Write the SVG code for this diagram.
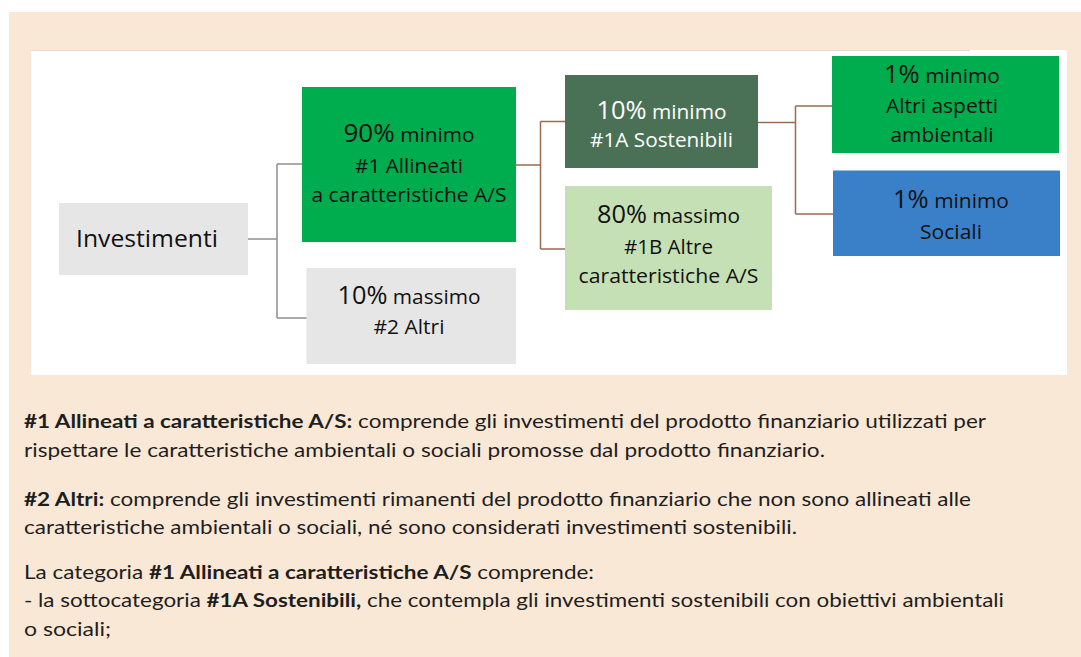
<svg xmlns="http://www.w3.org/2000/svg" width="1081" height="657" viewBox="0 0 1081 657">
<style>
.d{font-family:"Open Sans","Noto Sans","DejaVu Sans",sans-serif;text-anchor:middle;fill:#111}
.w{fill:#fff}
.b{font-family:Lato,"Liberation Sans",sans-serif;font-size:19px;fill:#1e1e1e}
.bb{font-weight:bold}
.gray{fill:#e7e6e6}
.c1{fill:none;stroke:#8f8f8f;stroke-width:1.5}
.c2{fill:none;stroke:#9a6a55;stroke-width:1.5}
</style>
<rect x="0" y="0" width="1081" height="657" fill="#ffffff"/>
<rect x="9" y="12" width="1072" height="645" fill="#fae8d6"/>
<rect x="31" y="50" width="1036" height="325" fill="#ffffff"/>
<line x1="31" y1="50.5" x2="970" y2="50.5" stroke="#e2dcd6" stroke-width="1"/>

<g id="connectors">
<path class="c1" d="M248 239 H277 M277 164 V318 M277 164 H302 M277 318 H307"/>
<path class="c2" d="M516 165 H540.5 M540.5 121.5 V249 M540.5 121.5 H565 M540.5 249 H565"/>
<path class="c2" d="M758 122.5 H795.5 M795.5 106 V214 M795.5 106 H832 M795.5 214 H833"/>
</g>

<g id="node-investimenti">
<rect class="gray" x="59" y="203" width="189" height="72"/>
<text class="d" x="147" y="247" font-size="24" textLength="142" lengthAdjust="spacingAndGlyphs">Investimenti</text>
</g>

<g id="node-allineati">
<rect x="302" y="87" width="214" height="155" fill="#00ad4e"/>
<text class="d" x="409" y="142" textLength="131" lengthAdjust="spacingAndGlyphs"><tspan font-size="25">90%</tspan><tspan font-size="20"> minimo</tspan></text>
<text class="d" x="409" y="172.5" font-size="20.5" textLength="108" lengthAdjust="spacingAndGlyphs">#1 Allineati</text>
<text class="d" x="409" y="201.5" font-size="20.5" textLength="195" lengthAdjust="spacingAndGlyphs">a caratteristiche A/S</text>
</g>

<g id="node-altri">
<rect class="gray" x="306.5" y="268" width="209.5" height="96"/>
<text class="d" x="409" y="303.5" textLength="143" lengthAdjust="spacingAndGlyphs"><tspan font-size="25">10%</tspan><tspan font-size="20.5"> massimo</tspan></text>
<text class="d" x="409" y="334" font-size="20.5" textLength="71" lengthAdjust="spacingAndGlyphs">#2 Altri</text>
</g>

<g id="node-sostenibili">
<rect x="565" y="75" width="193" height="93" fill="#4a7055"/>
<text class="d w" x="661.5" y="118.5" textLength="130" lengthAdjust="spacingAndGlyphs"><tspan font-size="25">10%</tspan><tspan font-size="20.5"> minimo</tspan></text>
<text class="d w" x="661.5" y="147" font-size="20.5" textLength="143" lengthAdjust="spacingAndGlyphs">#1A Sostenibili</text>
</g>

<g id="node-altre-caratteristiche">
<rect x="565" y="186" width="207" height="124" fill="#c5e0b4"/>
<text class="d" x="668.5" y="222.5" textLength="143" lengthAdjust="spacingAndGlyphs"><tspan font-size="25">80%</tspan><tspan font-size="20.5"> massimo</tspan></text>
<text class="d" x="668.5" y="254" font-size="20.5" textLength="89" lengthAdjust="spacingAndGlyphs">#1B Altre</text>
<text class="d" x="668.5" y="282.5" font-size="20.5" textLength="180" lengthAdjust="spacingAndGlyphs">caratteristiche A/S</text>
</g>

<g id="node-ambientali">
<rect x="832" y="56" width="227" height="97" fill="#00ad4e"/>
<text class="d" x="942" y="82.5" textLength="116" lengthAdjust="spacingAndGlyphs"><tspan font-size="25">1%</tspan><tspan font-size="20.5"> minimo</tspan></text>
<text class="d" x="942" y="113" font-size="20.5" textLength="112" lengthAdjust="spacingAndGlyphs">Altri aspetti</text>
<text class="d" x="942" y="142" font-size="20.5" textLength="103" lengthAdjust="spacingAndGlyphs">ambientali</text>
</g>

<g id="node-sociali">
<rect x="833" y="170.5" width="227" height="85.5" fill="#3a80c9"/>
<text class="d" x="951" y="207.5" textLength="116" lengthAdjust="spacingAndGlyphs"><tspan font-size="25">1%</tspan><tspan font-size="20.5"> minimo</tspan></text>
<text class="d" x="951" y="238.5" font-size="20.5" textLength="62" lengthAdjust="spacingAndGlyphs">Sociali</text>
</g>

<g id="legend-text">
<text class="b" x="24" y="428" textLength="962" lengthAdjust="spacingAndGlyphs"><tspan class="bb">#1 Allineati a caratteristiche A/S:</tspan> comprende gli investimenti del prodotto finanziario utilizzati per</text>
<text class="b" x="24" y="456.5" textLength="801" lengthAdjust="spacingAndGlyphs">rispettare le caratteristiche ambientali o sociali promosse dal prodotto finanziario.</text>
<text class="b" x="24" y="505.5" textLength="947" lengthAdjust="spacingAndGlyphs"><tspan class="bb">#2 Altri:</tspan> comprende gli investimenti rimanenti del prodotto finanziario che non sono allineati alle</text>
<text class="b" x="24" y="533.5" textLength="773" lengthAdjust="spacingAndGlyphs">caratteristiche ambientali o sociali, né sono considerati investimenti sostenibili.</text>
<text class="b" x="24" y="578.5" textLength="570" lengthAdjust="spacingAndGlyphs">La categoria <tspan class="bb">#1 Allineati a caratteristiche A/S</tspan> comprende:</text>
<text class="b" x="24" y="607" textLength="980" lengthAdjust="spacingAndGlyphs">- la sottocategoria <tspan class="bb">#1A Sostenibili,</tspan> che contempla gli investimenti sostenibili con obiettivi ambientali</text>
<text class="b" x="24" y="635.5" textLength="87" lengthAdjust="spacingAndGlyphs">o sociali;</text>
</g>
</svg>
